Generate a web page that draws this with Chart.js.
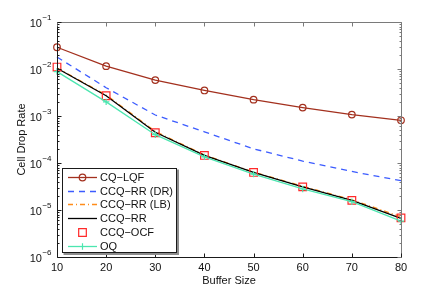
<!DOCTYPE html>
<html>
<head>
<meta charset="utf-8">
<script src="https://cdn.jsdelivr.net/npm/chart.js@4"></script>
<style>
    html, body { margin: 0; padding: 0; background: #fff; }
    #wrap { width: 443px; height: 291px; }
</style>
</head>
<body>
<div id="wrap"><canvas id="dropChart" width="443" height="291"></canvas></div>
<script>
// buffer sizes on the x axis
const bufferSizes = [10, 20, 30, 40, 50, 60, 70, 80];

// cell drop rate per scheme
const cqLqf   = [0.029, 0.0115, 0.0058, 0.0035, 0.00223, 0.00151, 0.00107, 0.00081];
const ccqRrDr = [0.018, 0.0040, 0.00105, 0.00046, 0.00020, 0.00011, 0.000066, 0.000042];
const ccqRrLb = [0.0105, 0.0028, 0.00047, 0.000148, 0.000064, 0.000032, 0.0000165, 0.0000072];
const ccqRr   = [0.0104, 0.0027, 0.00045, 0.000145, 0.000063, 0.000031, 0.000016, 0.0000066];
const ccqOcf  = [0.011, 0.0027, 0.00044, 0.000145, 0.000063, 0.000031, 0.000016, 0.0000068];
const oq      = [0.0088, 0.0020, 0.00040, 0.000135, 0.000058, 0.000028, 0.000015, 0.0000058];

const seriesNames = ["CQ\u2212LQF", "CCQ\u2212RR (DR)", "CCQ\u2212RR (LB)", "CCQ\u2212RR", "CCQ\u2212OCF", "OQ"];

// tick labels
const xTicks = [10, 20, 30, 40, 50, 60, 70, 80];
const yTickExps = [-1, -2, -3, -4, -5, -6];

const fontName = "'Liberation Sans', Arial, Helvetica, sans-serif";

function pts(values) {
    return values.map((v, i) => ({ x: bufferSizes[i], y: v }));
}

const datasets = [
    {
        label: seriesNames[0], data: pts(cqLqf),
        borderColor: "#a3301e", borderWidth: 1.3, pointStyle: "circle", pointRadius: 3.3,
        pointBorderColor: "#a3301e", pointBackgroundColor: "rgba(0,0,0,0)", pointBorderWidth: 1.2
    },
    {
        label: seriesNames[1], data: pts(ccqRrDr),
        borderColor: "#3c5cff", borderWidth: 1.3, borderDash: [6, 5], pointRadius: 0
    },
    {
        label: seriesNames[2], data: pts(ccqRrLb),
        borderColor: "#ff8c1a", borderWidth: 1.3, borderDash: [5, 3, 1, 3], pointRadius: 0
    },
    {
        label: seriesNames[3], data: pts(ccqRr),
        borderColor: "#000000", borderWidth: 1.3, pointRadius: 0
    },
    {
        label: seriesNames[4], data: pts(ccqOcf),
        showLine: false, pointStyle: "rect", pointRadius: 5.4,
        pointBorderColor: "#ff2a2a", pointBackgroundColor: "rgba(0,0,0,0)", pointBorderWidth: 1.2
    },
    {
        label: seriesNames[5], data: pts(oq),
        borderColor: "#4ce6b0", borderWidth: 1.3, pointStyle: "cross", pointRadius: 3.2,
        pointBorderColor: "#4ce6b0", pointBorderWidth: 1.2
    }
];

datasets.forEach((ds, i) => {
    ds.order = datasets.length - i;   // later series on top, like MATLAB
    ds.clip = false;
    ds.fill = false;
    ds.tension = 0;
    ds.pointHoverRadius = ds.pointRadius;
});

// axes box, inward ticks, labels and the legend, all drawn by hand
const matlabAxes = {
    id: "matlabAxes",
    afterDraw(chart) {
        const ctx = chart.ctx;
        const area = chart.chartArea;
        const xs = chart.scales.x;
        const ys = chart.scales.y;
        const L = Math.round(area.left) + 0.5;
        const R = Math.round(area.right) + 0.5;
        const T = Math.round(area.top) + 0.5;
        const B = Math.round(area.bottom) + 0.5;

        ctx.save();
        ctx.lineWidth = 1;

        // top and right frame
        ctx.strokeStyle = "#7a7a7a";
        ctx.beginPath();
        ctx.moveTo(L, T); ctx.lineTo(R, T); ctx.lineTo(R, B);
        ctx.stroke();

        // left and bottom axes
        ctx.strokeStyle = "#1a1a1a";
        ctx.beginPath();
        ctx.moveTo(L, T); ctx.lineTo(L, B); ctx.lineTo(R, B);
        ctx.stroke();

        // x ticks (bottom and top)
        xTicks.forEach((t) => {
            const px = Math.round(xs.getPixelForValue(t)) + 0.5;
            ctx.strokeStyle = "#1a1a1a";
            ctx.beginPath(); ctx.moveTo(px, B); ctx.lineTo(px, B - 4); ctx.stroke();
            ctx.strokeStyle = "#7a7a7a";
            ctx.beginPath(); ctx.moveTo(px, T); ctx.lineTo(px, T + 4); ctx.stroke();
        });

        // y ticks: majors at decades, minors at 2..9
        for (let e = -6; e <= -1; e++) {
            for (let m = 1; m <= 9; m++) {
                const v = m * Math.pow(10, e);
                if (v > 0.1 * 1.0001) continue;
                const py = Math.round(ys.getPixelForValue(v)) + 0.5;
                const len = m === 1 ? 4 : 2;
                ctx.strokeStyle = "#1a1a1a";
                ctx.beginPath(); ctx.moveTo(L, py); ctx.lineTo(L + len, py); ctx.stroke();
                ctx.strokeStyle = "#7a7a7a";
                ctx.beginPath(); ctx.moveTo(R, py); ctx.lineTo(R - len, py); ctx.stroke();
            }
        }

        // x tick labels
        ctx.fillStyle = "#111";
        ctx.font = "11px " + fontName;
        ctx.textAlign = "center";
        ctx.textBaseline = "middle";
        xTicks.forEach((t) => {
            ctx.fillText(String(t), xs.getPixelForValue(t), 268);
        });

        // y tick labels: 10 with superscript exponent
        yTickExps.forEach((e) => {
            const py = ys.getPixelForValue(Math.pow(10, e));
            const sup = "\u2212" + Math.abs(e);
            ctx.font = "8px " + fontName;
            const supW = ctx.measureText(sup).width;
            ctx.textAlign = "left";
            ctx.textBaseline = "alphabetic";
            const supX = L - 6 - supW;
            ctx.fillText(sup, supX, py - 2);
            ctx.font = "11px " + fontName;
            ctx.textAlign = "right";
            ctx.fillText("10", supX - 0.5, py + 5);
        });

        // axis titles
        ctx.font = "11px " + fontName;
        ctx.textAlign = "center";
        ctx.textBaseline = "middle";
        ctx.fillText("Buffer Size", (area.left + area.right) / 2, 281);
        ctx.save();
        ctx.translate(22, (area.top + area.bottom) / 2);
        ctx.rotate(-Math.PI / 2);
        ctx.fillText("Cell Drop Rate", 0, 0);
        ctx.restore();

        // legend box with shadow
        const bx = 62.5, by = 168.5, bw = 114, bh = 84;
        ctx.fillStyle = "#8c8c8c";
        ctx.fillRect(bx + 1, by + 1, bw + 1.5, bh + 1.5);
        ctx.fillStyle = "#fff";
        ctx.fillRect(bx, by, bw, bh);
        ctx.strokeStyle = "#1a1a1a";
        ctx.strokeRect(bx, by, bw, bh);

        const rowY0 = 177, rowStep = 13.7;
        const sx0 = 68, sx1 = 97, textX = 100;
        chart.data.datasets.forEach((ds, i) => {
            const y = Math.round(rowY0 + i * rowStep) + 0.5;
            const mx = (sx0 + sx1) / 2;
            if (ds.showLine !== false) {
                ctx.save();
                ctx.strokeStyle = ds.borderColor;
                ctx.lineWidth = ds.borderWidth;
                ctx.setLineDash(ds.borderDash || []);
                ctx.beginPath(); ctx.moveTo(sx0, y); ctx.lineTo(sx1, y); ctx.stroke();
                ctx.restore();
            }
            if (ds.pointRadius > 0) {
                ctx.save();
                ctx.lineWidth = ds.pointBorderWidth;
                ctx.strokeStyle = ds.pointBorderColor;
                ctx.fillStyle = "rgba(0,0,0,0)";
                Chart.helpers.drawPoint(ctx, { pointStyle: ds.pointStyle, radius: ds.pointRadius, rotation: 0, borderWidth: ds.pointBorderWidth }, mx, y);
                ctx.restore();
            }
            ctx.fillStyle = "#111";
            ctx.font = "11px " + fontName;
            ctx.textAlign = "left";
            ctx.textBaseline = "middle";
            ctx.fillText(ds.label, textX, y);
        });

        ctx.restore();
    }
};

const ctx = document.getElementById("dropChart").getContext("2d");

new Chart(ctx, {
    type: "line",
    data: { datasets: datasets },
    options: {
        responsive: false,
        animation: false,
        layout: { padding: { top: 22, right: 42, bottom: 0, left: 0 } },
        plugins: {
            legend: { display: false },
            tooltip: { enabled: false }
        },
        scales: {
            x: {
                type: "linear",
                min: 10,
                max: 80,
                grid: { display: false },
                border: { display: false },
                ticks: { display: false },
                afterFit: (scale) => { scale.height = 34; }
            },
            y: {
                type: "logarithmic",
                min: 1e-6,
                max: 1e-1,
                grid: { display: false },
                border: { display: false },
                ticks: { display: false },
                afterFit: (scale) => { scale.width = 57; }
            }
        }
    },
    plugins: [matlabAxes]
});
</script>
</body>
</html>
